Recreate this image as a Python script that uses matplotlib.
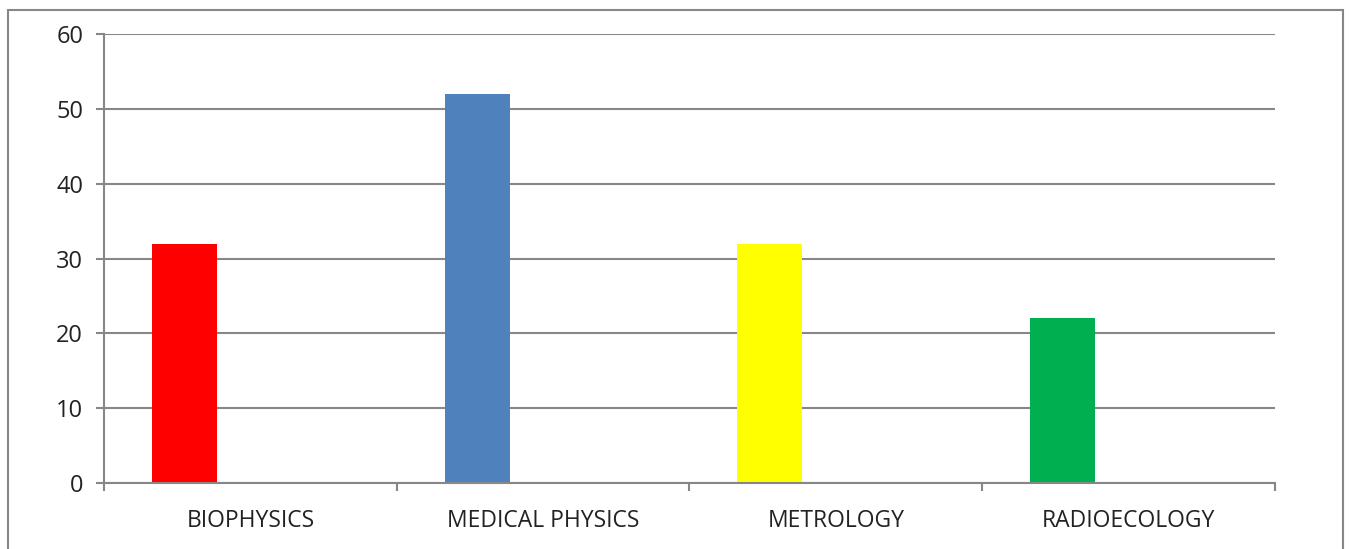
import matplotlib.pyplot as plt
from matplotlib.patches import Rectangle

categories = ["BIOPHYSICS", "MEDICAL PHYSICS", "METROLOGY", "RADIOECOLOGY"]
values = [32, 52, 32, 22]
colors = ["#FF0000", "#4F81BD", "#FFFF00", "#00B050"]

GREY = "#878787"
plt.rcParams["font.family"] = ["Open Sans", "DejaVu Sans"]

fig = plt.figure(figsize=(13.49, 5.49), dpi=100)
ax = fig.add_axes([0.0771, 0.1202, 0.868, 0.8178])

x = [i + 0.275 for i in range(len(categories))]
ax.bar(x, values, width=0.222, color=colors, zorder=3)

ax.set_xlim(0, len(categories))
ax.set_ylim(0, 60)
ax.set_yticks(range(0, 61, 10))
ax.yaxis.grid(True, color=GREY, linewidth=1.5, zorder=0)

# category boundaries as major ticks, labels centred via minor ticks
ax.set_xticks(range(len(categories) + 1))
ax.set_xticklabels([])
ax.set_xticks([i + 0.5 for i in range(len(categories))], minor=True)
ax.set_xticklabels(categories, minor=True)
ax.tick_params(axis="x", which="major", length=6, width=1.5, color=GREY)
ax.tick_params(axis="x", which="minor", length=0, pad=19, labelsize=16.5,
               labelcolor="#222222")
ax.tick_params(axis="y", length=6, width=1.5, color=GREY, labelsize=17,
               labelcolor="#222222", pad=9)

for s in ["top", "right"]:
    ax.spines[s].set_visible(False)
for s in ["left", "bottom"]:
    ax.spines[s].set_color(GREY)
    ax.spines[s].set_linewidth(1.5)
ax.spines["bottom"].set_zorder(4)

fig.patches.append(Rectangle((8 / 1349, -0.05), 1335 / 1349, 1.05 - 10 / 549,
                             transform=fig.transFigure, fill=False,
                             edgecolor=GREY, linewidth=1.5))

fig.savefig("out.png", dpi=100)
